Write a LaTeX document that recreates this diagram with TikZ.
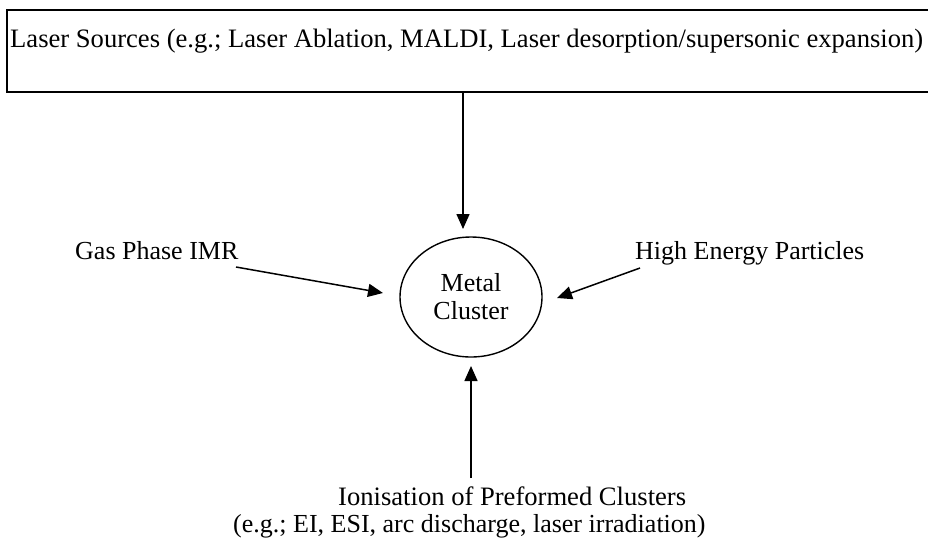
\documentclass[tikz,border=0pt]{standalone}
\usepackage{fontspec}
\setmainfont{Liberation Serif}
\usetikzlibrary{shapes.geometric,arrows.meta}
\begin{document}
\begin{tikzpicture}[x=1pt,y=-1pt,
  lbl/.style={inner sep=0pt, font=\fontsize{26}{28}\selectfont},
  biglbl/.style={inner sep=0pt, font=\fontsize{26.6}{28}\selectfont},
  conn/.style={line width=1.5pt, -{Triangle[length=15pt,width=13pt]}}]
\useasboundingbox (0,0) rectangle (928,542);
\fill[white] (0,0) rectangle (928,542);
% top box
\node[draw, line width=1.6pt, minimum width=940pt, minimum height=82pt, inner sep=0pt, anchor=north west] (box) at (6,9) {};
\node[biglbl, anchor=base west] (lasertxt) at (10,47) {Laser Sources (e.g.; Laser Ablation, MALDI, Laser desorption/supersonic expansion)};
% centre
\node[draw, ellipse, line width=1.4pt, minimum width=142pt, minimum height=120pt, inner sep=0pt, align=center, font=\fontsize{26}{28}\selectfont] (cl) at (471,297) {Metal\\Cluster};
% side labels
\node[lbl, anchor=base west] (gas) at (75,259) {Gas Phase IMR};
\node[lbl, anchor=base west] (hep) at (635,259) {High Energy Particles};
% bottom labels
\node[biglbl, anchor=base west] (ion) at (338,505) {Ionisation of Preformed Clusters};
\node[lbl, anchor=base west] (ioneg) at (233,532) {(e.g.; EI, ESI, arc discharge, laser irradiation)};
% connector ends
\coordinate (tTop) at (463,229);
\coordinate (gS) at (236,267);
\coordinate (gT) at (383,293);
\coordinate (hS) at (640,268);
\coordinate (hT) at (557,298);
\coordinate (bS) at (471,478);
\coordinate (bT) at (471,366);
\draw[conn] (box.south -| tTop) -- (tTop);
\draw[conn] (gS) -- (gT);
\draw[conn] (hS) -- (hT);
\draw[conn] (bS) -- (bT);
\end{tikzpicture}
\end{document}
